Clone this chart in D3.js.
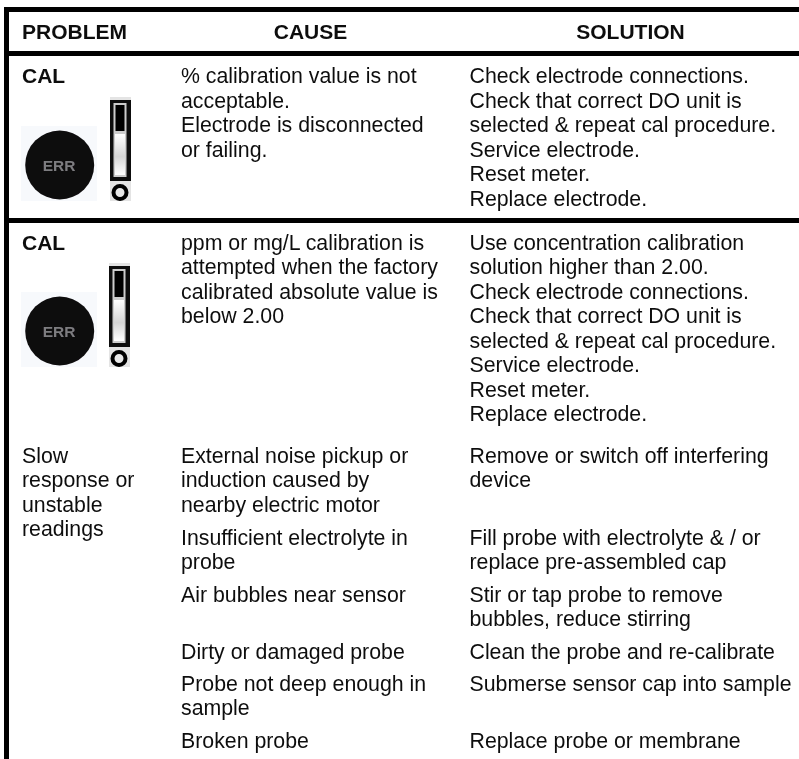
<!DOCTYPE html>
<html>
<head>
<meta charset="utf-8">
<script src="https://cdn.jsdelivr.net/npm/d3@7"></script>
<style>
  html, body { margin: 0; padding: 0; background: #fff; }
  svg { display: block; }
  text { font-family: "Liberation Sans", Arial, sans-serif; fill: #111; }
</style>
</head>
<body>
<script>
var headers = ["PROBLEM", "CAUSE", "SOLUTION"];

var problems = [
    ["CAL"],
    ["CAL"],
    ["Slow", "response or", "unstable", "readings"]
];
var causes = [
    ["% calibration value is not", "acceptable.", "Electrode is disconnected", "or failing."],
    ["ppm or mg/L calibration is", "attempted when the factory", "calibrated absolute value is", "below 2.00"],
    ["External noise pickup or", "induction caused by", "nearby electric motor"],
    ["Insufficient electrolyte in", "probe"],
    ["Air bubbles near sensor"],
    ["Dirty or damaged probe"],
    ["Probe not deep enough in", "sample"],
    ["Broken probe"]
];
var solutions = [
    ["Check electrode connections.", "Check that correct DO unit is", "selected & repeat cal procedure.", "Service electrode.", "Reset meter.", "Replace electrode."],
    ["Use concentration calibration", "solution higher than 2.00.", "Check electrode connections.", "Check that correct DO unit is", "selected & repeat cal procedure.", "Service electrode.", "Reset meter.", "Replace electrode."],
    ["Remove or switch off interfering", "device"],
    ["Fill probe with electrolyte & / or", "replace pre-assembled cap"],
    ["Stir or tap probe to remove", "bubbles, reduce stirring"],
    ["Clean the probe and re-calibrate"],
    ["Submerse sensor cap into sample"],
    ["Replace probe or membrane"]
];

var width = 799, height = 759;
var lineHeight = 24.45;
var fontSize = 21.3, boldSize = 21;
var colX = { problem: 22, cause: 181, solution: 469.5 };

// baseline of the first line of each block
var problemY = [83.3, 250, 463];
var blockY = [83.3, 250, 463, 545, 602, 659, 691, 748];
var ruleY = [9.5, 53.5, 220.5];

var svg = d3.select("body").append("svg").attr("width", width).attr("height", height);

var defs = svg.append("defs");
defs.append("filter").attr("id", "soft").append("feGaussianBlur").attr("stdDeviation", 0.5);
defs.append("filter").attr("id", "textsoft").append("feGaussianBlur").attr("stdDeviation", 0.3);
var grad = defs.append("linearGradient").attr("id", "glass").attr("x1", 0).attr("x2", 0).attr("y1", 0).attr("y2", 1);
grad.append("stop").attr("offset", "0%").attr("stop-color", "#fff");
grad.append("stop").attr("offset", "55%").attr("stop-color", "#d4d4d4");
grad.append("stop").attr("offset", "100%").attr("stop-color", "#fff");

svg.selectAll("line.rule").data(ruleY).enter().append("line")
    .attr("class", "rule")
    .attr("x1", 4).attr("x2", width)
    .attr("y1", function(d) { return d; }).attr("y2", function(d) { return d; })
    .attr("stroke", "#000").attr("stroke-width", 4.8);

svg.append("line").attr("x1", 6.5).attr("x2", 6.5).attr("y1", 7).attr("y2", height)
    .attr("stroke", "#000").attr("stroke-width", 5);

var page = svg.append("g").attr("filter", "url(#textsoft)");

// header row
page.selectAll("text.head").data(headers).enter().append("text")
    .attr("class", "head")
    .attr("x", function(d, i) { return [colX.problem, 310.5, 630.5][i]; })
    .attr("y", 39.3)
    .attr("text-anchor", function(d, i) { return i == 0 ? "start" : "middle"; })
    .attr("font-size", boldSize).attr("font-weight", "bold")
    .text(function(d) { return d; });

function drawBlocks(rows, x, ys, bold) {
    rows.forEach(function(lines, r) {
        var isBold = bold && bold(r);
        page.append("g").selectAll("text").data(lines).enter().append("text")
            .attr("x", x)
            .attr("y", function(d, i) { return ys[r] + i * lineHeight; })
            .attr("font-size", isBold ? boldSize : fontSize)
            .attr("font-weight", isBold ? "bold" : "normal")
            .text(function(d) { return d; });
    });
}

drawBlocks(problems, colX.problem, problemY, function(r) { return r < 2; });
drawBlocks(causes, colX.cause, blockY);
drawBlocks(solutions, colX.solution, blockY);

// ERR button and level gauge icon
function drawIcon(top, gaugeShift) {
    var g = svg.append("g").attr("transform", "translate(0," + top + ")").attr("filter", "url(#soft)");
    g.append("rect").attr("x", 21).attr("y", 29).attr("width", 76).attr("height", 75).attr("fill", "#f7f9fc");
    g.append("circle").attr("cx", 59.7).attr("cy", 68).attr("r", 34.5).attr("fill", "#100e10");
    g.append("text").attr("x", 59).attr("y", 74).attr("text-anchor", "middle")
        .attr("font-size", 15.5).attr("font-family", "Open Sans").attr("font-weight", "bold").style("fill", "#7d7d80").text("ERR");

    var gauge = g.append("g").attr("transform", "translate(" + gaugeShift + ",0)");
    gauge.append("rect").attr("x", 110).attr("y", 0).attr("width", 21).attr("height", 104).attr("fill", "#e4e4e4");
    gauge.append("rect").attr("x", 110).attr("y", 3).attr("width", 21).attr("height", 81).attr("fill", "#111");
    gauge.append("rect").attr("x", 113.5).attr("y", 6).attr("width", 13).attr("height", 74).attr("fill", "#ccc");
    gauge.append("rect").attr("x", 115.5).attr("y", 8).attr("width", 9).attr("height", 26).attr("fill", "#000");
    gauge.append("rect").attr("x", 115).attr("y", 37).attr("width", 10).attr("height", 41).attr("fill", "url(#glass)");
    gauge.append("circle").attr("cx", 120).attr("cy", 95.5).attr("r", 6.5).attr("fill", "#e8e8e8")
        .attr("stroke", "#000").attr("stroke-width", 4);
}
drawIcon(97, 0);
drawIcon(263, -1);
</script>
</body>
</html>
